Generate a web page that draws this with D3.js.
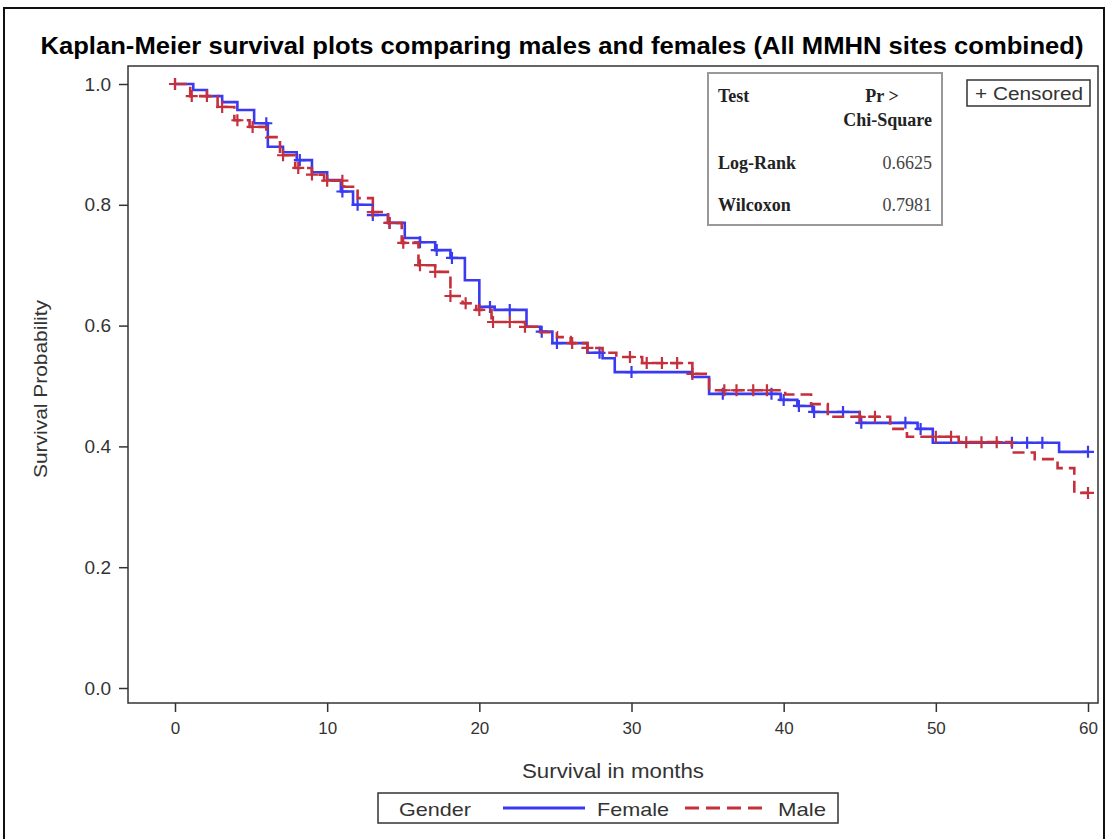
<!DOCTYPE html>
<html>
<head>
<meta charset="utf-8">
<script src="https://cdn.jsdelivr.net/npm/d3@7"></script>
<style>
  body { margin: 0; background: #fff; }
</style>
</head>
<body>
<svg width="1107" height="839" font-family="Liberation Sans, Arial, sans-serif"></svg>
<script>
// step points of each curve: [month, survival after the drop]
var femaleSteps = [[0,1.0],[1.2,0.99],[2.1,0.98],[3.1,0.97],[4.1,0.957],[5.2,0.935],[6.1,0.896],[7.1,0.887],
  [8.0,0.874],[9.0,0.854],[10.0,0.841],[10.9,0.822],[11.7,0.80],[13.0,0.783],[14.0,0.77],[15.1,0.745],
  [16.1,0.738],[17.1,0.725],[18.1,0.712],[19.05,0.675],[20.0,0.631],[21.0,0.626],[23.1,0.598],[24.0,0.59],
  [24.8,0.571],[27.1,0.555],[28.1,0.546],[28.9,0.523],[34.0,0.515],[35.1,0.487],[39.8,0.477],[40.9,0.467],
  [41.9,0.457],[45.0,0.439],[48.8,0.429],[49.8,0.406],[58.1,0.391]];
var maleSteps = [[0,1.0],[1.0,0.98],[2.8,0.962],[3.9,0.94],[4.9,0.929],[6.0,0.912],[6.9,0.882],[7.9,0.861],
  [9.0,0.85],[9.8,0.84],[11.1,0.83],[12.0,0.811],[13.0,0.788],[14.0,0.77],[14.9,0.737],[16.0,0.70],
  [17.1,0.689],[18.1,0.649],[18.9,0.637],[19.8,0.626],[20.8,0.606],[22.9,0.598],[24.0,0.589],[25.1,0.581],
  [26.0,0.571],[27.1,0.563],[28.1,0.555],[29.0,0.548],[30.7,0.538],[34.0,0.52],[35.1,0.493],[40.1,0.486],
  [41.8,0.47],[42.9,0.449],[47.0,0.429],[48.1,0.416],[51.5,0.407],[55.0,0.39],[56.5,0.379],[58.0,0.364],[59.1,0.323]];
// censored times
var femaleCensor = [0,6.0,8.2,11.0,12.0,13.0,14.1,16.1,17.2,18.2,20.7,22.0,24.1,25.1,27.9,30.0,36.0,39.2,
  40.0,41.0,42.0,43.9,45.1,48.0,49.0,55.0,56.0,57.0,60.0];
var maleCensor = [0,1.1,2.1,3.1,4.1,5.1,7.1,8.1,9.0,10.0,11.0,13.0,14.1,15.0,16.1,17.1,18.1,19.1,20.0,20.9,
  22.0,23.0,26.1,27.1,29.9,31.0,32.0,33.0,34.0,36.1,36.9,38.0,38.9,45.0,46.0,50.0,51.0,52.0,53.0,54.0,60.0];
var endMonth = 60;
var xTicks = [0,10,20,30,40,50,60];
var yTicks = [0,0.2,0.4,0.6,0.8,1.0];
var testNames = ["Log-Rank","Wilcoxon"];
var testValues = ["0.6625","0.7981"];

var svg = d3.select("svg");
var blue = "#3a3af0", red = "#c4303c";

// outer frame
svg.append("rect").attr("x",4).attr("y",8).attr("width",1100).attr("height",850)
  .attr("fill","none").attr("stroke","#111").attr("stroke-width",2);

svg.append("text").attr("x",562).attr("y",54).attr("text-anchor","middle")
  .attr("font-size",24).attr("font-weight","bold")
  .attr("textLength",1043).attr("lengthAdjust","spacingAndGlyphs")
  .text("Kaplan-Meier survival plots comparing males and females (All MMHN sites combined)");

var x = d3.scaleLinear().domain([0,60]).range([175,1088]);
var y = d3.scaleLinear().domain([0,1]).range([688,84]);

// plot box
svg.append("rect").attr("x",128).attr("y",66).attr("width",970).attr("height",637)
  .attr("fill","none").attr("stroke","#333").attr("stroke-width",1.5);

var yAxis = svg.append("g").attr("transform","translate(128,0)")
  .call(d3.axisLeft(y).tickValues(yTicks).tickFormat(d3.format(".1f")).tickSize(9).tickPadding(8));
var xAxis = svg.append("g").attr("transform","translate(0,703)")
  .call(d3.axisBottom(x).tickValues(xTicks).tickSize(9).tickPadding(10));
[yAxis, xAxis].forEach(function(a) {
  a.select(".domain").remove();
  a.selectAll("line").attr("stroke","#333").attr("stroke-width",1.5);
  a.selectAll("text").attr("font-size",17).attr("fill","#333")
    .attr("font-family","Liberation Sans, Arial, sans-serif");
});
yAxis.selectAll("text").attr("font-size",19);

svg.append("text").attr("transform","translate(47,389) rotate(-90)").attr("text-anchor","middle")
  .attr("font-size",19).attr("fill","#333")
  .attr("textLength",178).attr("lengthAdjust","spacingAndGlyphs").text("Survival Probability");
svg.append("text").attr("x",613).attr("y",778).attr("text-anchor","middle")
  .attr("font-size",20).attr("fill","#333")
  .attr("textLength",182).attr("lengthAdjust","spacingAndGlyphs").text("Survival in months");

// step curve path
function stepPath(steps) {
  var pts = steps.concat([[endMonth, steps[steps.length-1][1]]]);
  return d3.line().x(d => x(d[0])).y(d => y(d[1])).curve(d3.curveStepAfter)(pts);
}
function survAt(steps, t) {
  var s = 1;
  steps.forEach(function(d){ if (d[0] <= t) s = d[1]; });
  return s;
}
function drawGroup(steps, censor, color, dash) {
  svg.append("path").attr("d", stepPath(steps)).attr("fill","none")
    .attr("stroke",color).attr("stroke-width",2.6).attr("stroke-dasharray",dash);
  var g = svg.append("g");
  g.selectAll("path").data(censor).enter().append("path")
    .attr("d", function(t) {
      var cx = x(t), cy = y(survAt(steps, t));
      return "M"+(cx-6)+","+cy+"H"+(cx+6)+"M"+cx+","+(cy-6)+"V"+(cy+6);
    })
    .attr("stroke",color).attr("stroke-width",2.2);
}
drawGroup(femaleSteps, femaleCensor, blue, null);
drawGroup(maleSteps, maleCensor, red, "12,6");

// test table
svg.append("rect").attr("x",708).attr("y",73).attr("width",234).attr("height",152)
  .attr("fill","#fff").attr("stroke","#999").attr("stroke-width",2);
var serif = "Liberation Serif, Times New Roman, serif";
svg.append("text").attr("x",718).attr("y",102).attr("font-family",serif).attr("font-size",18)
  .attr("font-weight","bold").attr("fill","#222").text("Test");
svg.append("text").attr("x",882).attr("y",102).attr("font-family",serif).attr("font-size",18)
  .attr("font-weight","bold").attr("text-anchor","middle").attr("fill","#222").text("Pr >");
svg.append("text").attr("x",932).attr("y",126).attr("font-family",serif).attr("font-size",18)
  .attr("font-weight","bold").attr("text-anchor","end").attr("fill","#222").text("Chi-Square");
testNames.forEach(function(n, i) {
  svg.append("text").attr("x",718).attr("y",169 + i*42).attr("font-family",serif).attr("font-size",18)
    .attr("font-weight","bold").attr("fill","#222").text(n);
  svg.append("text").attr("x",932).attr("y",169 + i*42).attr("font-family",serif).attr("font-size",18)
    .attr("text-anchor","end").attr("fill","#444").text(testValues[i]);
});

// censored legend
svg.append("rect").attr("x",967).attr("y",80).attr("width",123).attr("height",26)
  .attr("fill","#fff").attr("stroke","#333").attr("stroke-width",1.5);
svg.append("text").attr("x",975).attr("y",100).attr("font-size",18).attr("fill","#333")
  .attr("textLength",108).attr("lengthAdjust","spacingAndGlyphs").text("+ Censored");

// group legend
svg.append("rect").attr("x",378).attr("y",793).attr("width",460).attr("height",30)
  .attr("fill","#fff").attr("stroke","#333").attr("stroke-width",1.5);
svg.append("text").attr("x",399).attr("y",816).attr("font-size",19).attr("fill","#333")
  .attr("textLength",72).attr("lengthAdjust","spacingAndGlyphs").text("Gender");
svg.append("line").attr("x1",503).attr("x2",585).attr("y1",808).attr("y2",808)
  .attr("stroke",blue).attr("stroke-width",3);
svg.append("text").attr("x",597).attr("y",816).attr("font-size",19).attr("fill","#333")
  .attr("textLength",72).attr("lengthAdjust","spacingAndGlyphs").text("Female");
svg.append("line").attr("x1",685).attr("x2",767).attr("y1",808).attr("y2",808)
  .attr("stroke",red).attr("stroke-width",3).attr("stroke-dasharray","14,7");
svg.append("text").attr("x",778).attr("y",816).attr("font-size",19).attr("fill","#333")
  .attr("textLength",48).attr("lengthAdjust","spacingAndGlyphs").text("Male");
</script>
</body>
</html>
